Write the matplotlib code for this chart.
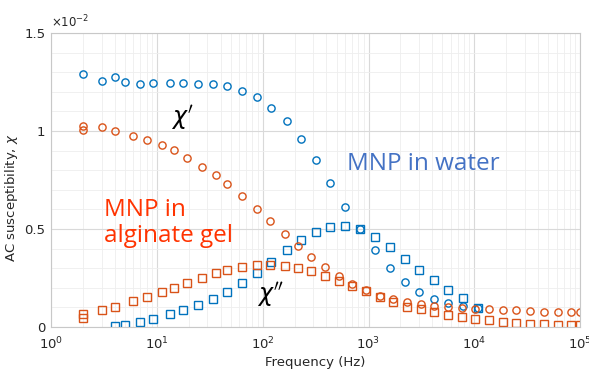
import numpy as np
import matplotlib
matplotlib.use("Agg")
import matplotlib.pyplot as plt
from matplotlib.ticker import LogLocator, MultipleLocator, FormatStrFormatter

# frequencies (Hz) and susceptibilities (x 1e-2)
f_gel = [2, 2, 3, 4, 6, 8.1, 11.2, 14.4, 19.4, 26.8, 36, 46, 63.5, 88, 117, 161,
         214, 289, 387, 526, 704, 955, 1282, 1720, 2316, 3100, 4170, 5620, 7580,
         10150, 13800, 18600, 24900, 33600, 45400, 61300, 82000, 100000]
chi1_gel = [1.026, 1.003, 1.019, 1.002, 0.974, 0.954, 0.927, 0.903, 0.861, 0.818,
            0.776, 0.731, 0.668, 0.602, 0.541, 0.473, 0.413, 0.359, 0.305, 0.260,
            0.218, 0.187, 0.160, 0.141, 0.126, 0.116, 0.107, 0.102, 0.095, 0.093,
            0.090, 0.087, 0.085, 0.082, 0.078, 0.077, 0.075, 0.075]
chi2_gel = [0.066, 0.044, 0.087, 0.104, 0.133, 0.151, 0.180, 0.200, 0.226, 0.250,
            0.274, 0.289, 0.305, 0.315, 0.316, 0.311, 0.303, 0.284, 0.260, 0.235,
            0.209, 0.182, 0.151, 0.128, 0.104, 0.090, 0.075, 0.063, 0.051, 0.042,
            0.034, 0.026, 0.020, 0.017, 0.014, 0.010, 0.010, 0.009]

f_water = [2, 3, 4, 5, 7, 9.2, 13.3, 17.5, 24.5, 34, 46, 63.5, 89, 121, 168, 230,
           317, 437, 605, 833, 1150, 1585, 2200, 3000, 4160, 5690, 7850, 10800]
chi1_water = [1.292, 1.255, 1.277, 1.250, 1.240, 1.245, 1.245, 1.243, 1.241, 1.240,
              1.230, 1.206, 1.172, 1.119, 1.049, 0.961, 0.854, 0.735, 0.614, 0.498,
              0.393, 0.303, 0.231, 0.177, 0.145, 0.122, 0.107, 0.095]
f_water_sq = f_water[2:]
chi2_water = [0.004, 0.009, 0.027, 0.042, 0.065, 0.085, 0.114, 0.144, 0.180, 0.226,
              0.276, 0.333, 0.391, 0.444, 0.483, 0.509, 0.514, 0.500, 0.459, 0.408,
              0.348, 0.290, 0.240, 0.189, 0.148, 0.095]

blue = "#0072BD"
orange = "#D95319"

fig = plt.figure(figsize=(5.89, 3.69), dpi=100)
ax = fig.add_axes([0.0866, 0.1138, 0.8984, 0.7968])

mk = dict(linestyle="none", markerfacecolor="none", markersize=5.2, markeredgewidth=1.0)
ax.plot(f_water, chi1_water, "o", color=blue, **mk)
ax.plot(f_water_sq, chi2_water, "s", color=blue, **mk)
ax.plot(f_gel, chi1_gel, "o", color=orange, **mk)
ax.plot(f_gel, chi2_gel, "s", color=orange, **mk)

ax.set_xscale("log")
ax.set_xlim(1, 1e5)
ax.set_ylim(0, 1.5)
ax.set_yticks([0, 0.5, 1, 1.5])
ax.yaxis.set_major_formatter(FormatStrFormatter("%g"))
ax.yaxis.set_minor_locator(MultipleLocator(0.1))
ax.xaxis.set_major_locator(LogLocator(base=10, numticks=10))
ax.xaxis.set_minor_locator(LogLocator(base=10, subs=np.arange(2, 10), numticks=20))

ax.grid(True, which="major", color="#d9d9d9", linewidth=0.8)
ax.grid(True, which="minor", color="#eeeeee", linewidth=0.6)
ax.set_axisbelow(True)
for s in ax.spines.values():
    s.set_color("#c8c8c8")
    s.set_linewidth(0.8)
ax.tick_params(which="both", length=0, labelsize=9.5, labelcolor="#262626", pad=4)
ax.tick_params(axis="x", which="both", pad=6)
ax.tick_params(axis="x", which="minor", labelbottom=False)

lab = dict(fontsize=9.5, color="#262626")
ax.set_xlabel("Frequency (Hz)", labelpad=3, **lab)
ax.set_ylabel("AC susceptibility, $\\chi$", **lab)
ax.yaxis.set_label_coords(-0.058, 0.44)
ax.text(0.0, 1.008, "$\\times10^{-2}$", transform=ax.transAxes, fontsize=8.5,
        color="#262626", va="bottom", ha="left")

ax.text(628, 0.83, "MNP in water", fontsize=17.5, color="#4472C4",
        fontfamily="Open Sans", va="center", ha="left")
ax.text(3.2, 0.53, "MNP in\nalginate gel", fontsize=17.5, color="#FF3300",
        fontfamily="Open Sans", va="center", ha="left", linespacing=1.15)
ax.text(17.5, 1.07, "$\\chi'$", fontsize=17, color="black", ha="center", va="center",
        family="serif")
ax.text(118, 0.163, "$\\chi''$", fontsize=17, color="black", ha="center", va="center",
        family="serif")

fig.savefig("out.png", dpi=100)
